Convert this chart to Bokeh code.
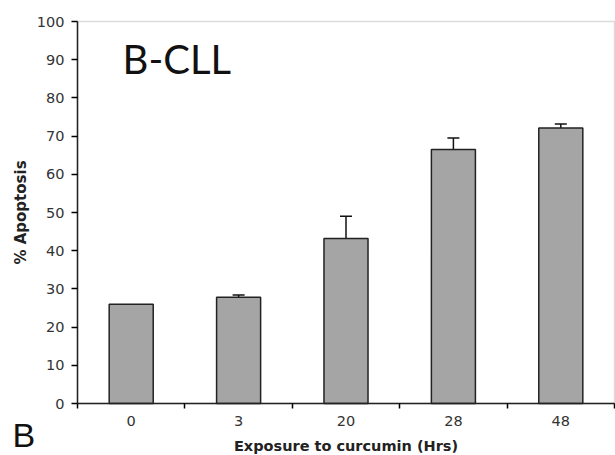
from bokeh.plotting import figure
from bokeh.models import (FixedTicker, Whisker, ColumnDataSource, Label, Range1d,
                          BoxAnnotation)
from bokeh.embed import file_html
from bokeh.resources import INLINE

categories = ["0", "3", "20", "28", "48"]
values = [26.0, 27.8, 43.2, 66.5, 72.1]
upper_err = [float("nan"), 28.4, 49.0, 69.5, 73.2]
y_ticks = [0, 10, 20, 30, 40, 50, 60, 70, 80, 90, 100]

W, H = 615, 455
# plot-area placement on the canvas (pixels)
left_px, right_px, top_px, bottom_px = 77, 614, 21, 403
n = len(categories)
ymax = 100.0
xs = (right_px - left_px) / n          # px per category
ys = (bottom_px - top_px) / ymax       # px per y unit

xpos = [i + 0.5 for i in range(n)]

src = ColumnDataSource(dict(x=xpos, top=values))
esrc = ColumnDataSource(dict(x=[x for x, u in zip(xpos, upper_err) if u == u],
                             upper=[u for u in upper_err if u == u],
                             lower=[v for v, u in zip(values, upper_err) if u == u]))

p = figure(width=W, height=H, output_backend="svg", toolbar_location=None,
           x_range=Range1d(-left_px / xs, n + (W - right_px) / xs),
           y_range=Range1d(-(H - bottom_px) / ys, ymax + top_px / ys))
p.min_border_left = 0
p.min_border_right = 0
p.min_border_top = 0
p.min_border_bottom = 0
p.background_fill_color = "white"
p.border_fill_color = "white"
p.outline_line_color = None
p.xgrid.visible = False
p.ygrid.visible = False

# plot-area border (gray top/right lines)
p.add_layout(BoxAnnotation(left=0, right=n, bottom=0, top=ymax, fill_alpha=0,
                           line_color="#8a8a8a", line_width=1.5, level="underlay"))

p.vbar(x="x", top="top", width=0.41, bottom=0, source=src,
       fill_color="#a5a5a5", line_color="#222222", line_width=1.5)

wh = Whisker(base="x", upper="upper", lower="lower", source=esrc,
             line_color="#111111", line_width=1.5, lower_head=None)
wh.upper_head.size = 12
wh.upper_head.line_width = 1.5
wh.upper_head.line_color = "#111111"
p.add_layout(wh)

# x axis
p.xaxis.fixed_location = 0
p.xaxis.bounds = (0, n)
p.xaxis.ticker = FixedTicker(ticks=xpos, minor_ticks=list(range(n + 1)))
p.xaxis.major_label_overrides = {x: c for x, c in zip(xpos, categories)}
p.xaxis.major_tick_out = 0
p.xaxis.major_tick_in = 0
p.xaxis.minor_tick_out = 5
p.xaxis.minor_tick_in = 0
p.xaxis.minor_tick_line_width = 1.5
p.xaxis.axis_line_width = 1.5
p.xaxis.axis_line_color = "#222222"
p.xaxis.major_label_text_font = "DejaVu Sans"
p.xaxis.major_label_text_font_size = "14.5px"
p.xaxis.major_label_text_color = "#333333"
p.xaxis.major_label_standoff = 7
p.xaxis.axis_label = "Exposure to curcumin (Hrs)"
p.xaxis.axis_label_text_font = "DejaVu Sans"
p.xaxis.axis_label_text_font_style = "bold"
p.xaxis.axis_label_text_font_size = "14.5px"
p.xaxis.axis_label_text_color = "#222222"
p.xaxis.axis_label_standoff = 9

# y axis
p.yaxis.fixed_location = 0
p.yaxis.bounds = (0, ymax)
p.yaxis.ticker = FixedTicker(ticks=y_ticks)
p.yaxis.minor_tick_line_color = None
p.yaxis.major_tick_out = 6
p.yaxis.major_tick_in = 0
p.yaxis.major_tick_line_width = 1.5
p.yaxis.axis_line_width = 1.5
p.yaxis.axis_line_color = "#222222"
p.yaxis.major_label_text_font = "DejaVu Sans"
p.yaxis.major_label_text_font_size = "14.5px"
p.yaxis.major_label_text_color = "#333333"
p.yaxis.major_label_standoff = 7
p.yaxis.axis_label = "% Apoptosis"
p.yaxis.axis_label_text_font = "DejaVu Sans"
p.yaxis.axis_label_text_font_style = "bold"
p.yaxis.axis_label_text_font_size = "15px"
p.yaxis.axis_label_text_color = "#222222"
p.yaxis.axis_label_standoff = 4

p.add_layout(Label(x=0.42, y=84.0, text="B-CLL", text_font="Lato",
                   text_font_size="40px", text_color="#111111"))
p.add_layout(Label(x=(12 - left_px) / xs, y=-(453.5 - bottom_px) / ys, text="B",
                   text_font="Liberation Sans", text_font_size="34px",
                   text_color="#111111", text_baseline="bottom"))

open("out.html", "w").write(file_html(p, INLINE))
